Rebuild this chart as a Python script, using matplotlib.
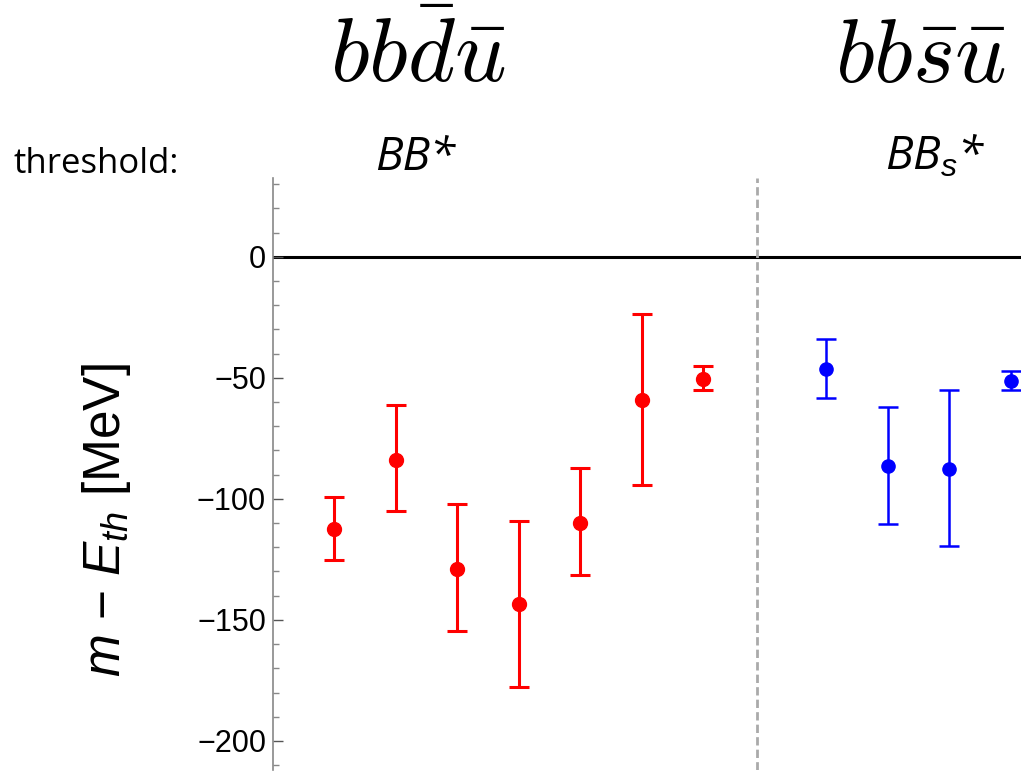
import matplotlib
matplotlib.use("Agg")
import matplotlib.pyplot as plt
from matplotlib.ticker import MultipleLocator

plt.rcParams['font.family'] = ['Liberation Sans', 'DejaVu Sans']
plt.rcParams['mathtext.fontset'] = 'custom'
plt.rcParams['mathtext.rm'] = 'Liberation Sans'
plt.rcParams['mathtext.it'] = 'Liberation Sans:italic'

# bb dbar ubar  (threshold B B*)
red_x = [1, 2, 3, 4, 5, 6, 7]
red_val = [-112.3, -83.8, -128.9, -143.5, -109.8, -59.1, -50.4]
red_lo = [-125.3, -105.2, -154.5, -177.7, -131.4, -94.2, -55.0]
red_hi = [-99.3, -61.2, -102.1, -109.2, -87.1, -23.7, -45.0]

# bb sbar ubar  (threshold B Bs*)
blue_x = [9, 10, 11, 12]
blue_val = [-46.4, -86.4, -87.6, -51.1]
blue_lo = [-58.3, -110.3, -119.4, -55.0]
blue_hi = [-34.0, -62.1, -55.0, -47.0]

divider_x = 7.88

fig = plt.figure(figsize=(10.21, 7.79), dpi=100)
ax = fig.add_axes([0.2674, 0.0116, 0.7326, 0.76])

ax.axhline(0, color='black', lw=2.2, zorder=1)
ax.axvline(divider_x, color='#aaaaaa', lw=2, ls=(0, (3, 1.5)), zorder=1)

def yerr(val, lo, hi):
    return [[v - l for v, l in zip(val, lo)], [h - v for v, h in zip(val, hi)]]

ax.errorbar(red_x, red_val, yerr=yerr(red_val, red_lo, red_hi), fmt='o',
            color='#ff0000', ms=10, lw=2.2, capsize=7, capthick=2.2, zorder=3)
ax.errorbar(blue_x, blue_val, yerr=yerr(blue_val, blue_lo, blue_hi), fmt='o',
            color='#0000ff', ms=9.5, lw=1.8, capsize=7, capthick=1.8, zorder=3)

ax.set_xlim(0, 12.17)
ax.set_ylim(-212, 32.6)
for s in ['top', 'right', 'bottom']:
    ax.spines[s].set_visible(False)
ax.spines['left'].set_color('#888888')
ax.spines['left'].set_linewidth(1.2)
ax.set_xticks([])
ax.yaxis.set_major_locator(MultipleLocator(50))
ax.yaxis.set_minor_locator(MultipleLocator(10))
ax.tick_params(axis='y', which='major', direction='in', length=7, width=1,
               color='#555555', labelsize=22, pad=5)
ax.tick_params(axis='y', which='minor', direction='in', length=4, width=1,
               color='#888888')

fig.text(0.104, 0.332, r'$m$ − $E_{th}$ [MeV]', rotation=90, fontsize=37,
         ha='center', va='center')

fig.text(0.409, 0.925, r'$bb\bar{d}\bar{u}$', fontsize=65, math_fontfamily='cm',
         ha='center', va='center')
fig.text(0.902, 0.925, r'$bb\bar{s}\bar{u}$', fontsize=65, math_fontfamily='cm',
         ha='center', va='center')

fig.text(0.013, 0.778, 'threshold:', fontsize=25, family=['Open Sans', 'DejaVu Sans'],
         ha='left', va='baseline')
fig.text(0.407, 0.782, 'BB*', fontsize=33, style='italic',
         family=['Open Sans', 'DejaVu Sans'], ha='center', va='baseline')
fig.text(0.916, 0.782, r'BB$_s$*', fontsize=33, style='italic',
         family=['Open Sans', 'DejaVu Sans'], ha='center', va='baseline')

fig.savefig('out.png', dpi=100)
